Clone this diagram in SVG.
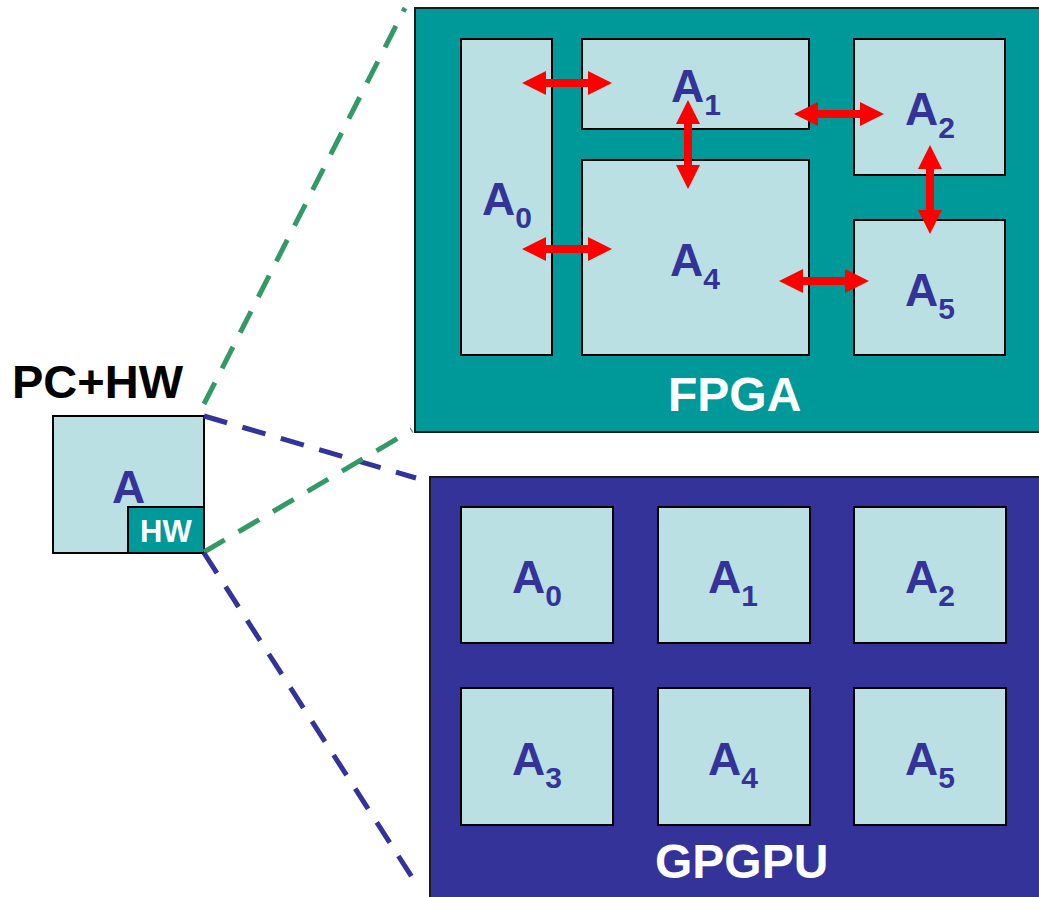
<svg xmlns="http://www.w3.org/2000/svg" width="1039" height="897" viewBox="0 0 1039 897">
<style>
.blk{fill:#BBE0E3;stroke:#000;stroke-width:2}
.lbl{font-family:"Liberation Sans",Arial,sans-serif;font-weight:bold;font-size:46px;fill:#333399}
.sub{font-size:30px}
.title{font-family:"Liberation Sans",Arial,sans-serif;font-weight:bold;font-size:48px;fill:#fff}
.dg{fill:none;stroke:#339966;stroke-width:5;stroke-dasharray:24 16}
.db{fill:none;stroke:#333399;stroke-width:5;stroke-dasharray:24 16}
.arr{stroke:#FF0000;stroke-width:8;marker-start:url(#ah);marker-end:url(#ah)}
</style>
<defs>
<marker id="ah" viewBox="0 0 24 24" markerWidth="24" markerHeight="24" refX="4" refY="12" markerUnits="userSpaceOnUse" orient="auto-start-reverse">
<path d="M0,0 L24,12 L0,24 z" fill="#FF0000"/>
</marker>
</defs>
<rect width="1039" height="897" fill="#fff"/>

<g id="fpga">
<rect x="415" y="8" width="630" height="424" fill="#009999" stroke="#1a1a1a" stroke-width="2"/>
<text class="title" x="668" y="411">FPGA</text>
</g>
<g id="fpga-a0"><rect class="blk" x="461" y="39" width="91" height="316"/><text class="lbl" x="482" y="215">A<tspan class="sub" dy="13">0</tspan></text></g>
<g id="fpga-a1"><rect class="blk" x="582" y="39" width="227" height="90"/><text class="lbl" x="671" y="102">A<tspan class="sub" dy="13">1</tspan></text></g>
<g id="fpga-a2"><rect class="blk" x="854" y="39" width="151" height="136"/><text class="lbl" x="905" y="125">A<tspan class="sub" dy="13">2</tspan></text></g>
<g id="fpga-a4"><rect class="blk" x="582" y="160" width="227" height="195"/><text class="lbl" x="670" y="276">A<tspan class="sub" dy="13">4</tspan></text></g>
<g id="fpga-a5"><rect class="blk" x="854" y="220" width="151" height="135"/><text class="lbl" x="905" y="306">A<tspan class="sub" dy="13">5</tspan></text></g>

<g id="gpgpu">
<rect x="430" y="477" width="615" height="430" fill="#333399" stroke="#1a1a1a" stroke-width="2"/>
<text class="title" x="655" y="878">GPGPU</text>
</g>
<g id="gpu-a0"><rect class="blk" x="461" y="507" width="152" height="136"/><text class="lbl" x="512" y="593">A<tspan class="sub" dy="13">0</tspan></text></g>
<g id="gpu-a1"><rect class="blk" x="658" y="507" width="152" height="136"/><text class="lbl" x="708" y="593">A<tspan class="sub" dy="13">1</tspan></text></g>
<g id="gpu-a2"><rect class="blk" x="854" y="507" width="152" height="136"/><text class="lbl" x="905" y="593">A<tspan class="sub" dy="13">2</tspan></text></g>
<g id="gpu-a3"><rect class="blk" x="461" y="688" width="152" height="137"/><text class="lbl" x="512" y="775">A<tspan class="sub" dy="13">3</tspan></text></g>
<g id="gpu-a4"><rect class="blk" x="658" y="688" width="152" height="137"/><text class="lbl" x="708" y="775">A<tspan class="sub" dy="13">4</tspan></text></g>
<g id="gpu-a5"><rect class="blk" x="854" y="688" width="152" height="137"/><text class="lbl" x="905" y="775">A<tspan class="sub" dy="13">5</tspan></text></g>

<g id="pc">
<text x="12" y="398" font-family="Liberation Sans,Arial,sans-serif" font-weight="bold" font-size="47" fill="#000">PC+HW</text>
<rect class="blk" x="53" y="416" width="151" height="137"/>
<text class="lbl" x="112" y="503">A</text>
<rect x="128" y="507" width="76" height="46" fill="#009999" stroke="#000" stroke-width="2"/>
<text x="140" y="542" font-family="Liberation Sans,Arial,sans-serif" font-weight="bold" font-size="31" fill="#fff">HW</text>
</g>

<g id="connectors">
<line class="dg" x1="204" y1="404" x2="405" y2="8"/>
<line class="db" x1="204" y1="416" x2="416" y2="478"/>
<line class="dg" x1="204" y1="552" x2="412" y2="430"/>
<line class="db" x1="204" y1="553" x2="417" y2="885"/>
<line class="arr" x1="542" y1="83" x2="592" y2="83"/>
<line class="arr" x1="688" y1="120" x2="688" y2="169"/>
<line class="arr" x1="814" y1="114" x2="864" y2="114"/>
<line class="arr" x1="930" y1="165" x2="930" y2="214"/>
<line class="arr" x1="542" y1="249" x2="592" y2="249"/>
<line class="arr" x1="799" y1="281" x2="849" y2="281"/>
</g>
</svg>
